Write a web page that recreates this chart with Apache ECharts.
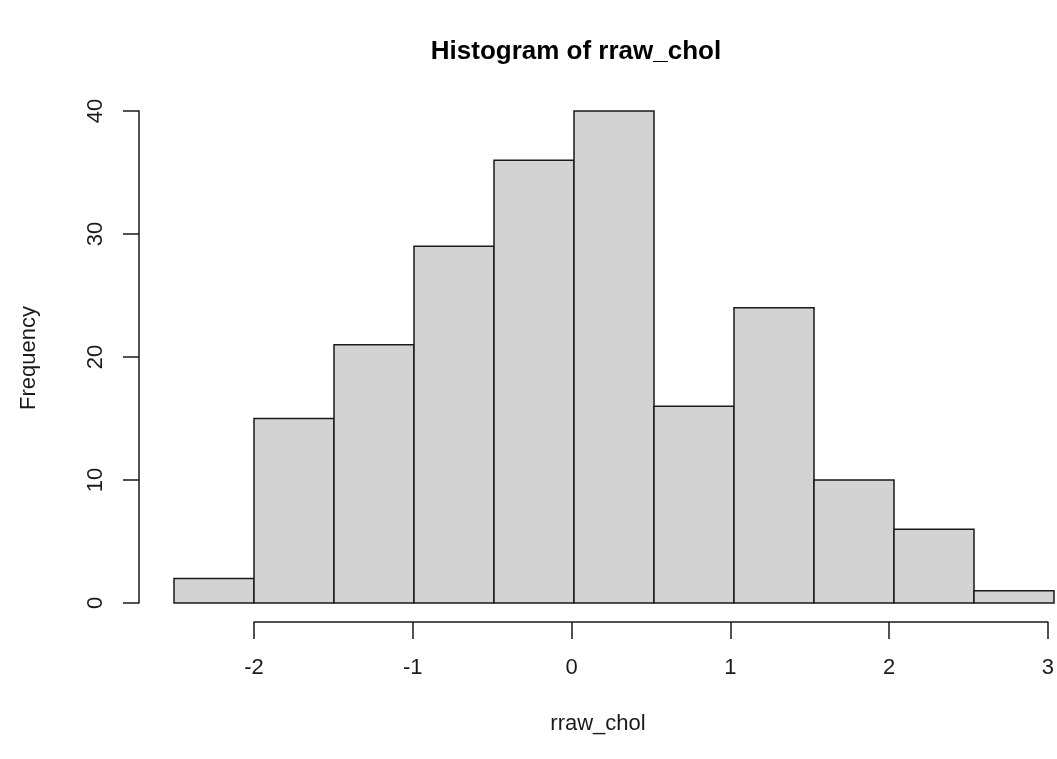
<!DOCTYPE html>
<html>
<head>
<meta charset="utf-8">
<script src="https://cdn.jsdelivr.net/npm/echarts@6/dist/echarts.min.js"></script>
<style>
  html, body { margin: 0; padding: 0; background: #fff; }
  #chart { width: 1057px; height: 759px; }
</style>
</head>
<body>
<div id="chart"></div>
<script>
// Histogram bins (left edges), bin width and counts
const binStarts = [-2.5, -2, -1.5, -1, -0.5, 0, 0.5, 1, 1.5, 2, 2.5];
const binWidth = 0.5;
const counts = [2, 15, 21, 29, 36, 40, 16, 24, 10, 6, 1];
const xTickLabels = [-2, -1, 0, 1, 2, 3];
const yTickLabels = [0, 10, 20, 30, 40];
const titleText = 'Histogram of rraw_chol';
const xName = 'rraw_chol';
const yName = 'Frequency';

const FONT = '"Liberation Sans", Arial, sans-serif';
const INK = '#1a1a1a';

const barData = binStarts.map((s, i) => [s, s + binWidth, counts[i]]);

const chart = echarts.init(document.getElementById('chart'), null, { renderer: 'canvas' });

chart.setOption({
  backgroundColor: '#ffffff',
  animation: false,
  grid: [
    // plotting area for the bars
    { left: 174, width: 880, top: 111, height: 492 },
    // grid carrying the visible x axis (first to last tick)
    { left: 254, width: 800, top: 111, height: 492 }
  ],
  xAxis: [
    {
      gridIndex: 0, type: 'value',
      min: binStarts[0], max: binStarts[binStarts.length - 1] + binWidth,
      show: false
    },
    {
      gridIndex: 1, type: 'value',
      min: xTickLabels[0], max: xTickLabels[xTickLabels.length - 1], interval: 1,
      position: 'bottom', offset: 19,
      axisLine: { show: true, onZero: false, lineStyle: { color: INK, width: 1.5 } },
      axisTick: { show: true, inside: false, length: 17, lineStyle: { color: INK, width: 1.5 } },
      axisLabel: {
        show: true, margin: 35, color: INK, fontSize: 22, fontFamily: FONT,
        showMinLabel: true, showMaxLabel: true, hideOverlap: false
      },
      splitLine: { show: false }
    }
  ],
  yAxis: [
    {
      gridIndex: 0, type: 'value',
      min: yTickLabels[0], max: yTickLabels[yTickLabels.length - 1], interval: 10,
      position: 'left', offset: 35,
      axisLine: { show: true, onZero: false, lineStyle: { color: INK, width: 1.5 } },
      axisTick: { show: true, inside: false, length: 16, lineStyle: { color: INK, width: 1.5 } },
      axisLabel: {
        show: true, rotate: 90, margin: 32, color: INK, fontSize: 22, fontFamily: FONT,
        showMinLabel: true, showMaxLabel: true
      },
      splitLine: { show: false }
    },
    {
      gridIndex: 1, type: 'value', min: 0, max: 40, show: false
    }
  ],
  series: [
    {
      type: 'custom',
      xAxisIndex: 0, yAxisIndex: 0,
      encode: { x: [0, 1], y: 2 },
      data: barData,
      renderItem: function (params, api) {
        const topLeft = api.coord([api.value(0), api.value(2)]);
        const bottomRight = api.coord([api.value(1), 0]);
        return {
          type: 'rect',
          shape: {
            x: topLeft[0], y: topLeft[1],
            width: bottomRight[0] - topLeft[0],
            height: bottomRight[1] - topLeft[1]
          },
          style: { fill: '#d3d3d3', stroke: INK, lineWidth: 1.5 }
        };
      }
    }
  ],
  graphic: [
    {
      type: 'text', x: 576, y: 52,
      style: {
        text: titleText, fill: '#000', font: 'bold 26px ' + FONT,
        align: 'center', verticalAlign: 'middle'
      }
    },
    {
      type: 'text', x: 598, y: 724,
      style: {
        text: xName, fill: INK, font: '22px ' + FONT,
        align: 'center', verticalAlign: 'middle'
      }
    },
    {
      type: 'text', x: 29, y: 358, rotation: Math.PI / 2,
      style: {
        text: yName, fill: INK, font: '22px ' + FONT,
        align: 'center', verticalAlign: 'middle'
      }
    }
  ]
});
</script>
</body>
</html>
